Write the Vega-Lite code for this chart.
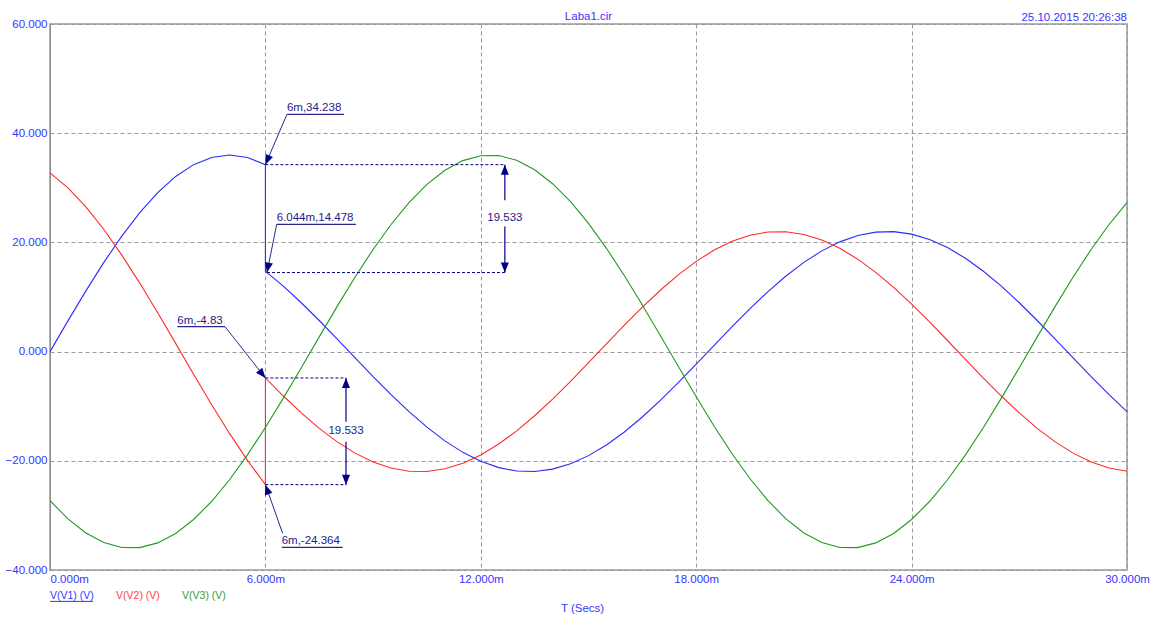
{
  "$schema": "https://vega.github.io/schema/vega-lite/v6.json",
  "width": 1077,
  "height": 546,
  "autosize": {"type": "none"},
  "padding": {"left": 50, "top": 24, "right": 35, "bottom": 49},
  "background": "white",
  "config": {
    "view": {"stroke": "#b4b4b4", "strokeWidth": 2},
    "axis": {"labelFont": "Liberation Sans", "labelFontSize": 11.5, "labelColor": "#3535ff", "ticks": false, "grid": true, "gridColor": "#9a9a9a", "gridDash": [4, 3], "gridWidth": 1, "domainColor": "#8c8c8c", "domainWidth": 1, "titleFont": "Liberation Sans", "titleFontSize": 11.5, "titleFontWeight": "normal", "titleColor": "#3535ff"},
    "text": {"font": "Liberation Sans", "fontSize": 11.5}
  },
  "datasets": {
    "curves": [
      {"s":"V1","t":0,"v":0},{"s":"V1","t":0.5,"v":5.632},{"s":"V1","t":1,"v":11.125},{"s":"V1","t":1.5,"v":16.344},{"s":"V1","t":2,"v":21.16},{"s":"V1","t":2.5,"v":25.456},{"s":"V1","t":3,"v":29.125},{"s":"V1","t":3.5,"v":32.076},{"s":"V1","t":4,"v":34.238},{"s":"V1","t":4.5,"v":35.557},{"s":"V1","t":5,"v":36},{"s":"V1","t":5.5,"v":35.557},{"s":"V1","t":6,"v":34.238},
      {"s":"V1","t":6,"v":14.72},{"s":"V1","t":6.044,"v":14.478},{"s":"V1","t":6.5,"v":11.982},{"s":"V1","t":7,"v":8.948},{"s":"V1","t":7.5,"v":5.694},{"s":"V1","t":8,"v":2.3},{"s":"V1","t":8.5,"v":-1.151},{"s":"V1","t":9,"v":-4.574},{"s":"V1","t":9.5,"v":-7.884},{"s":"V1","t":10,"v":-11},{"s":"V1","t":10.5,"v":-13.845},{"s":"V1","t":11,"v":-16.349},{"s":"V1","t":11.5,"v":-18.451},{"s":"V1","t":12,"v":-20.098},{"s":"V1","t":12.5,"v":-21.25},{"s":"V1","t":13,"v":-21.879},{"s":"V1","t":13.5,"v":-21.97},{"s":"V1","t":14,"v":-21.519},{"s":"V1","t":14.5,"v":-20.539},{"s":"V1","t":15,"v":-19.053},{"s":"V1","t":15.5,"v":-17.097},{"s":"V1","t":16,"v":-14.721},{"s":"V1","t":16.5,"v":-11.982},{"s":"V1","t":17,"v":-8.948},{"s":"V1","t":17.5,"v":-5.694},{"s":"V1","t":18,"v":-2.3},{"s":"V1","t":18.5,"v":1.151},{"s":"V1","t":19,"v":4.574},{"s":"V1","t":19.5,"v":7.884},{"s":"V1","t":20,"v":11},{"s":"V1","t":20.5,"v":13.845},{"s":"V1","t":21,"v":16.349},{"s":"V1","t":21.5,"v":18.451},{"s":"V1","t":22,"v":20.098},{"s":"V1","t":22.5,"v":21.25},{"s":"V1","t":23,"v":21.879},{"s":"V1","t":23.5,"v":21.97},{"s":"V1","t":24,"v":21.519},{"s":"V1","t":24.5,"v":20.539},{"s":"V1","t":25,"v":19.053},{"s":"V1","t":25.5,"v":17.097},{"s":"V1","t":26,"v":14.721},{"s":"V1","t":26.5,"v":11.982},{"s":"V1","t":27,"v":8.948},{"s":"V1","t":27.5,"v":5.694},{"s":"V1","t":28,"v":2.3},{"s":"V1","t":28.5,"v":-1.151},{"s":"V1","t":29,"v":-4.574},{"s":"V1","t":29.5,"v":-7.884},{"s":"V1","t":30,"v":-11},
      {"s":"V2","t":0,"v":32.733},{"s":"V2","t":0.5,"v":29.985},{"s":"V2","t":1,"v":26.5},{"s":"V2","t":1.5,"v":22.361},{"s":"V2","t":2,"v":17.672},{"s":"V2","t":2.5,"v":12.548},{"s":"V2","t":3,"v":7.116},{"s":"V2","t":3.5,"v":1.508},{"s":"V2","t":4,"v":-4.138},{"s":"V2","t":4.5,"v":-9.681},{"s":"V2","t":5,"v":-14.986},{"s":"V2","t":5.5,"v":-19.922},{"s":"V2","t":6,"v":-24.364},
      {"s":"V2","t":6,"v":-4.83},{"s":"V2","t":6.5,"v":-8.135},{"s":"V2","t":7,"v":-11.232},{"s":"V2","t":7.5,"v":-14.053},{"s":"V2","t":8,"v":-16.528},{"s":"V2","t":8.5,"v":-18.596},{"s":"V2","t":9,"v":-20.206},{"s":"V2","t":9.5,"v":-21.318},{"s":"V2","t":10,"v":-21.906},{"s":"V2","t":10.5,"v":-21.954},{"s":"V2","t":11,"v":-21.462},{"s":"V2","t":11.5,"v":-20.441},{"s":"V2","t":12,"v":-18.918},{"s":"V2","t":12.5,"v":-16.927},{"s":"V2","t":13,"v":-14.52},{"s":"V2","t":13.5,"v":-11.754},{"s":"V2","t":14,"v":-8.702},{"s":"V2","t":14.5,"v":-5.434},{"s":"V2","t":15,"v":-2.032},{"s":"V2","t":15.5,"v":1.42},{"s":"V2","t":16,"v":4.837},{"s":"V2","t":16.5,"v":8.135},{"s":"V2","t":17,"v":11.232},{"s":"V2","t":17.5,"v":14.053},{"s":"V2","t":18,"v":16.528},{"s":"V2","t":18.5,"v":18.596},{"s":"V2","t":19,"v":20.206},{"s":"V2","t":19.5,"v":21.318},{"s":"V2","t":20,"v":21.906},{"s":"V2","t":20.5,"v":21.954},{"s":"V2","t":21,"v":21.462},{"s":"V2","t":21.5,"v":20.441},{"s":"V2","t":22,"v":18.918},{"s":"V2","t":22.5,"v":16.927},{"s":"V2","t":23,"v":14.52},{"s":"V2","t":23.5,"v":11.754},{"s":"V2","t":24,"v":8.702},{"s":"V2","t":24.5,"v":5.434},{"s":"V2","t":25,"v":2.032},{"s":"V2","t":25.5,"v":-1.42},{"s":"V2","t":26,"v":-4.837},{"s":"V2","t":26.5,"v":-8.135},{"s":"V2","t":27,"v":-11.232},{"s":"V2","t":27.5,"v":-14.053},{"s":"V2","t":28,"v":-16.528},{"s":"V2","t":28.5,"v":-18.596},{"s":"V2","t":29,"v":-20.206},{"s":"V2","t":29.5,"v":-21.318},{"s":"V2","t":30,"v":-21.906},
      {"s":"V3","t":0,"v":-27.293},{"s":"V3","t":0.5,"v":-30.629},{"s":"V3","t":1,"v":-33.214},{"s":"V3","t":1.5,"v":-34.976},{"s":"V3","t":2,"v":-35.879},{"s":"V3","t":2.5,"v":-35.899},{"s":"V3","t":3,"v":-35.034},{"s":"V3","t":3.5,"v":-33.308},{"s":"V3","t":4,"v":-30.75},{"s":"V3","t":4.5,"v":-27.456},{"s":"V3","t":5,"v":-23.476},{"s":"V3","t":5.5,"v":-18.917},{"s":"V3","t":6,"v":-13.893},{"s":"V3","t":6.5,"v":-8.526},{"s":"V3","t":7,"v":-2.95},{"s":"V3","t":7.5,"v":2.699},{"s":"V3","t":8,"v":8.282},{"s":"V3","t":8.5,"v":13.661},{"s":"V3","t":9,"v":18.703},{"s":"V3","t":9.5,"v":23.284},{"s":"V3","t":10,"v":27.293},{"s":"V3","t":10.5,"v":30.629},{"s":"V3","t":11,"v":33.214},{"s":"V3","t":11.5,"v":34.976},{"s":"V3","t":12,"v":35.879},{"s":"V3","t":12.5,"v":35.899},{"s":"V3","t":13,"v":35.034},{"s":"V3","t":13.5,"v":33.308},{"s":"V3","t":14,"v":30.75},{"s":"V3","t":14.5,"v":27.456},{"s":"V3","t":15,"v":23.476},{"s":"V3","t":15.5,"v":18.917},{"s":"V3","t":16,"v":13.893},{"s":"V3","t":16.5,"v":8.526},{"s":"V3","t":17,"v":2.95},{"s":"V3","t":17.5,"v":-2.699},{"s":"V3","t":18,"v":-8.282},{"s":"V3","t":18.5,"v":-13.661},{"s":"V3","t":19,"v":-18.703},{"s":"V3","t":19.5,"v":-23.284},{"s":"V3","t":20,"v":-27.293},{"s":"V3","t":20.5,"v":-30.629},{"s":"V3","t":21,"v":-33.214},{"s":"V3","t":21.5,"v":-34.976},{"s":"V3","t":22,"v":-35.879},{"s":"V3","t":22.5,"v":-35.899},{"s":"V3","t":23,"v":-35.034},{"s":"V3","t":23.5,"v":-33.308},{"s":"V3","t":24,"v":-30.75},{"s":"V3","t":24.5,"v":-27.456},{"s":"V3","t":25,"v":-23.476},{"s":"V3","t":25.5,"v":-18.917},{"s":"V3","t":26,"v":-13.893},{"s":"V3","t":26.5,"v":-8.526},{"s":"V3","t":27,"v":-2.95},{"s":"V3","t":27.5,"v":2.699},{"s":"V3","t":28,"v":8.282},{"s":"V3","t":28.5,"v":13.661},{"s":"V3","t":29,"v":18.703},{"s":"V3","t":29.5,"v":23.284},{"s":"V3","t":30,"v":27.293}
    ],
    "guides": [
      {"t":6,"t2":12.67,"v":34.238},
      {"t":6.044,"t2":12.67,"v":14.478},
      {"t":6,"t2":8.245,"v":-4.83},
      {"t":6,"t2":8.245,"v":-24.364}
    ],
    "spans": [
      {"t":12.67,"v":34.238,"v2":27.7},
      {"t":12.67,"v":22.9,"v2":14.478},
      {"t":8.245,"v":-4.83,"v2":-12.84},
      {"t":8.245,"v":-16.5,"v2":-24.364}
    ],
    "measures": [
      {"t":12.67,"v":24.4,"label":"19.533"},
      {"t":8.245,"v":-14.6,"label":"19.533"}
    ],
    "tips": [
      {"id":"up","t":12.67,"v":34.238},
      {"id":"up","t":8.245,"v":-4.83},
      {"id":"down","t":12.67,"v":14.478},
      {"id":"down","t":8.245,"v":-24.364},
      {"id":"c1","t":6,"v":34.238},
      {"id":"c2","t":6.044,"v":14.478},
      {"id":"c3","t":6,"v":-4.83},
      {"id":"c4","t":6,"v":-24.364}
    ],
    "callouts": [
      {"label":"6m,34.238","ux0":6.6,"ux1":8.19,"uy":43.46,"lx":6.6,"ly":43.46,"px":6,"py":34.238},
      {"label":"6.044m,14.478","ux0":6.315,"ux1":8.52,"uy":23.31,"lx":6.315,"ly":23.31,"px":6.044,"py":14.478},
      {"label":"6m,-4.83","ux0":3.546,"ux1":4.875,"uy":4.56,"lx":4.875,"ly":4.56,"px":6,"py":-4.83},
      {"label":"6m,-24.364","ux0":6.454,"ux1":8.153,"uy":-35.84,"lx":6.48,"ly":-33.28,"px":6,"py":-24.364}
    ]
  },
  "layer": [
    {
      "data": {"name": "curves"},
      "mark": {"type": "line", "strokeWidth": 1.1},
      "encoding": {
        "x": {"field": "t", "type": "quantitative", "title": "T (Secs)",
              "scale": {"domain": [0, 30], "nice": false, "zero": false},
              "axis": {"values": [0, 6, 12, 18, 24, 30], "labelExpr": "format(datum.value, '.3f') + 'm'", "labelFlush": false,
                       "labelAlign": {"condition": {"test": "datum.value == 0", "value": "left"}, "value": "center"},
                       "labelPadding": 3, "titlePadding": 18, "titleX": 532, "domain": false}},
        "y": {"field": "v", "type": "quantitative", "title": null,
              "scale": {"domain": [-40, 60], "nice": false, "zero": false},
              "axis": {"values": [-40, -20, 0, 20, 40, 60], "format": ".3f", "labelPadding": 3}},
        "color": {"field": "s", "type": "nominal", "legend": null,
                  "scale": {"domain": ["V1", "V2", "V3"], "range": ["#2a2aff", "#ff2a2a", "#1f9a1f"]}},
        "order": {"value": null}
      }
    },
    {
      "data": {"name": "guides"},
      "mark": {"type": "rule", "color": "#000080", "strokeDash": [3, 2], "strokeWidth": 1},
      "encoding": {
        "x": {"field": "t", "type": "quantitative"},
        "x2": {"field": "t2"},
        "y": {"field": "v", "type": "quantitative"}
      }
    },
    {
      "data": {"name": "spans"},
      "mark": {"type": "rule", "color": "#000080", "strokeWidth": 1.2},
      "encoding": {
        "x": {"field": "t", "type": "quantitative"},
        "y": {"field": "v", "type": "quantitative"},
        "y2": {"field": "v2"}
      }
    },
    {
      "data": {"name": "measures"},
      "mark": {"type": "text", "color": "#1c1c8c", "align": "center", "baseline": "middle"},
      "encoding": {
        "x": {"field": "t", "type": "quantitative"},
        "y": {"field": "v", "type": "quantitative"},
        "text": {"field": "label"}
      }
    },
    {
      "data": {"name": "callouts"},
      "mark": {"type": "rule", "color": "#28288c", "strokeWidth": 1},
      "encoding": {
        "x": {"field": "lx", "type": "quantitative"},
        "y": {"field": "ly", "type": "quantitative"},
        "x2": {"field": "px"},
        "y2": {"field": "py"}
      }
    },
    {
      "data": {"name": "callouts"},
      "mark": {"type": "rule", "color": "#28288c", "strokeWidth": 1.2},
      "encoding": {
        "x": {"field": "ux0", "type": "quantitative"},
        "x2": {"field": "ux1"},
        "y": {"field": "uy", "type": "quantitative"}
      }
    },
    {
      "data": {"name": "callouts"},
      "mark": {"type": "text", "color": "#1c1c8c", "align": "left", "baseline": "alphabetic", "dy": -3},
      "encoding": {
        "x": {"field": "ux0", "type": "quantitative"},
        "y": {"field": "uy", "type": "quantitative"},
        "text": {"field": "label"}
      }
    },
    {
      "data": {"name": "tips"},
      "transform": [{"filter": "datum.id == 'up'"}],
      "mark": {"type": "point", "shape": "M0,0L-0.4,1L0.4,1Z", "size": 400, "filled": true, "opacity": 1, "color": "#000080", "angle": 0},
      "encoding": {"x": {"field": "t", "type": "quantitative"}, "y": {"field": "v", "type": "quantitative"}}
    },
    {
      "data": {"name": "tips"},
      "transform": [{"filter": "datum.id == 'down'"}],
      "mark": {"type": "point", "shape": "M0,0L-0.4,1L0.4,1Z", "size": 400, "filled": true, "opacity": 1, "color": "#000080", "angle": 180},
      "encoding": {"x": {"field": "t", "type": "quantitative"}, "y": {"field": "v", "type": "quantitative"}}
    },
    {
      "data": {"name": "tips"},
      "transform": [{"filter": "datum.id == 'c1'"}],
      "mark": {"type": "point", "shape": "M0,0L-0.4,1L0.4,1Z", "size": 400, "filled": true, "opacity": 1, "color": "#000080", "angle": 202.9},
      "encoding": {"x": {"field": "t", "type": "quantitative"}, "y": {"field": "v", "type": "quantitative"}}
    },
    {
      "data": {"name": "tips"},
      "transform": [{"filter": "datum.id == 'c2'"}],
      "mark": {"type": "point", "shape": "M0,0L-0.4,1L0.4,1Z", "size": 400, "filled": true, "opacity": 1, "color": "#000080", "angle": 191.4},
      "encoding": {"x": {"field": "t", "type": "quantitative"}, "y": {"field": "v", "type": "quantitative"}}
    },
    {
      "data": {"name": "tips"},
      "transform": [{"filter": "datum.id == 'c3'"}],
      "mark": {"type": "point", "shape": "M0,0L-0.4,1L0.4,1Z", "size": 400, "filled": true, "opacity": 1, "color": "#000080", "angle": 141.4},
      "encoding": {"x": {"field": "t", "type": "quantitative"}, "y": {"field": "v", "type": "quantitative"}}
    },
    {
      "data": {"name": "tips"},
      "transform": [{"filter": "datum.id == 'c4'"}],
      "mark": {"type": "point", "shape": "M0,0L-0.4,1L0.4,1Z", "size": 400, "filled": true, "opacity": 1, "color": "#000080", "angle": 341},
      "encoding": {"x": {"field": "t", "type": "quantitative"}, "y": {"field": "v", "type": "quantitative"}}
    },
    {
      "data": {"values": [{"txt": "Laba1.cir"}]},
      "mark": {"type": "text", "color": "#3535ff", "align": "center", "baseline": "alphabetic", "dy": -4},
      "encoding": {"x": {"datum": 15}, "y": {"datum": 60}, "text": {"field": "txt"}}
    },
    {
      "data": {"values": [{"txt": "25.10.2015 20:26:38"}]},
      "mark": {"type": "text", "color": "#3535ff", "align": "right", "baseline": "alphabetic", "dy": -3},
      "encoding": {"x": {"datum": 30}, "y": {"datum": 60}, "text": {"field": "txt"}}
    },
    {
      "data": {"values": [{"txt": "V(V1) (V)"}]},
      "mark": {"type": "text", "color": "#3535ff", "align": "left", "baseline": "alphabetic", "fontSize": 10.5},
      "encoding": {"x": {"datum": 0}, "y": {"datum": -45.3}, "text": {"field": "txt"}}
    },
    {
      "data": {"values": [{"txt": "V(V2) (V)"}]},
      "mark": {"type": "text", "color": "#ff4040", "align": "left", "baseline": "alphabetic", "fontSize": 10.5},
      "encoding": {"x": {"datum": 1.84}, "y": {"datum": -45.3}, "text": {"field": "txt"}}
    },
    {
      "data": {"values": [{"txt": "V(V3) (V)"}]},
      "mark": {"type": "text", "color": "#3a9a3a", "align": "left", "baseline": "alphabetic", "fontSize": 10.5},
      "encoding": {"x": {"datum": 3.68}, "y": {"datum": -45.3}, "text": {"field": "txt"}}
    },
    {
      "data": {"values": [{}]},
      "mark": {"type": "rule", "color": "#3535ff", "strokeWidth": 1},
      "encoding": {"x": {"datum": 0}, "x2": {"datum": 1.2}, "y": {"datum": -45.75}}
    }
  ]
}
